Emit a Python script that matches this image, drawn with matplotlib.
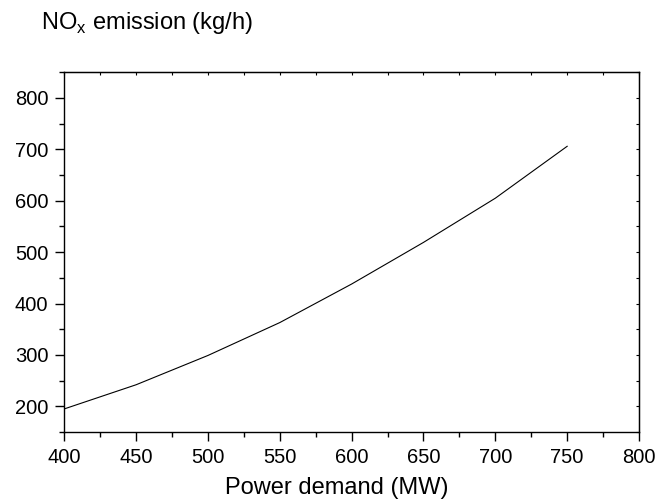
import matplotlib
matplotlib.use('Agg')
import matplotlib.pyplot as plt
from matplotlib.ticker import MultipleLocator

plt.rcParams['font.family'] = ['Liberation Sans', 'DejaVu Sans']
plt.rcParams['mathtext.fontset'] = 'custom'
plt.rcParams['mathtext.rm'] = 'Liberation Sans'

# data
power = [400, 450, 500, 550, 600, 650, 700, 750]
nox = [195, 242, 299, 363, 438, 519, 605, 706]

fig = plt.figure(figsize=(6.57, 5.01), dpi=100)
ax = fig.add_axes([0.0979, 0.1377, 0.8747, 0.718])

ax.plot(power, nox, color='black', linewidth=0.8)

ax.set_xlim(400, 800)
ax.set_ylim(150, 850)
ax.xaxis.set_major_locator(MultipleLocator(50))
ax.xaxis.set_minor_locator(MultipleLocator(25))
ax.yaxis.set_major_locator(MultipleLocator(100))
ax.yaxis.set_minor_locator(MultipleLocator(50))

for s in ax.spines.values():
    s.set_linewidth(1.0)

ax.tick_params(which='major', direction='out', length=6.5, width=1.0,
               labelsize=14.5, pad=5)
ax.tick_params(which='minor', direction='out', length=3.5, width=1.0)

# small inward ticks on the top and right spines
top = ax.secondary_xaxis('top')
top.xaxis.set_major_locator(MultipleLocator(25))
top.tick_params(direction='in', length=2, width=0.8, labeltop=False)
right = ax.secondary_yaxis('right')
right.yaxis.set_major_locator(MultipleLocator(50))
right.tick_params(direction='in', length=2, width=0.8, labelright=False)

ax.set_xlabel('Power demand (MW)', fontsize=17)
ax.xaxis.set_label_coords(0.4745, -0.125)
fig.text(0.062, 0.955, r'NO$_\mathrm{x}$ emission (kg/h)', fontsize=17,
         ha='left', va='center')

plt.savefig('out.png', dpi=100)
